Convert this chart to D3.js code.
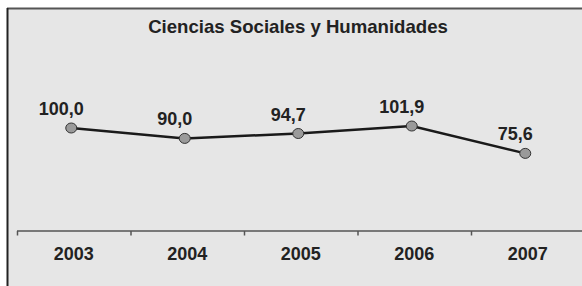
<!DOCTYPE html>
<html>
<head>
<meta charset="utf-8">
<script src="https://cdn.jsdelivr.net/npm/d3@7"></script>
<style>
  body { margin: 0; background: #fff; }
  svg { display: block; }
</style>
</head>
<body>
<svg id="chart" width="582" height="286"></svg>
<script>
// chart data
const years = ["2003", "2004", "2005", "2006", "2007"];
const values = [100.0, 90.0, 94.7, 101.9, 75.6];
const valueLabels = ["100,0", "90,0", "94,7", "101,9", "75,6"];
const title = "Ciencias Sociales y Humanidades";

const width = 582, height = 286;
const font = "'Liberation Sans', Arial, Helvetica, sans-serif";

const svg = d3.select("#chart");

// grey panel with the top/left frame
svg.append("rect")
    .attr("x", 7).attr("y", 8)
    .attr("width", width - 7).attr("height", height - 8)
    .attr("fill", "#e6e6e6");
svg.append("line")
    .attr("x1", 7).attr("x2", width).attr("y1", 8.5).attr("y2", 8.5)
    .attr("stroke", "#555").attr("stroke-width", 2);
svg.append("line")
    .attr("x1", 7.5).attr("x2", 7.5).attr("y1", 8).attr("y2", height)
    .attr("stroke", "#222").attr("stroke-width", 2);

// scales
const x = d3.scaleBand()
    .domain(years)
    .range([17, 584.5]);

const y = d3.scaleLinear()
    .domain([0, 200])
    .range([232, 24]);

const axisY = 231;

// x axis: line, ticks on band edges, labels centered
const axis = svg.append("g");
axis.append("line")
    .attr("x1", x.range()[0]).attr("x2", width)
    .attr("y1", axisY).attr("y2", axisY)
    .attr("stroke", "#555").attr("stroke-width", 1.5);

axis.selectAll(".tick")
    .data(years)
    .enter().append("line")
    .attr("class", "tick")
    .attr("x1", d => x(d) + 0.5).attr("x2", d => x(d) + 0.5)
    .attr("y1", axisY).attr("y2", axisY + 4.5)
    .attr("stroke", "#555").attr("stroke-width", 1.5);

axis.selectAll(".year")
    .data(years)
    .enter().append("text")
    .attr("class", "year")
    .attr("x", d => x(d) + x.bandwidth() / 2)
    .attr("y", 260)
    .attr("text-anchor", "middle")
    .attr("font-family", font)
    .attr("font-weight", "bold")
    .attr("font-size", "18px")
    .attr("fill", "#222")
    .text(d => d);

// title
svg.append("text")
    .attr("x", 298)
    .attr("y", 33)
    .attr("text-anchor", "middle")
    .attr("font-family", font)
    .attr("font-weight", "bold")
    .attr("font-size", "18.6px")
    .attr("fill", "#222")
    .text(title);

// line + markers
const px = (d, i) => x(years[i]) + x.bandwidth() / 2 - 2.5;
const py = d => y(d);

const line = d3.line()
    .x((d, i) => px(d, i))
    .y(d => py(d));

svg.append("path")
    .datum(values)
    .attr("d", line)
    .attr("fill", "none")
    .attr("stroke", "#1a1a1a")
    .attr("stroke-width", 2.5);

svg.selectAll(".dot")
    .data(values)
    .enter().append("ellipse")
    .attr("class", "dot")
    .attr("cx", (d, i) => px(d, i))
    .attr("cy", d => py(d))
    .attr("rx", 5.5)
    .attr("ry", 5)
    .attr("fill", "#9a9a9a")
    .attr("stroke", "#333")
    .attr("stroke-width", 1);

// value labels above points
svg.selectAll(".val")
    .data(values)
    .enter().append("text")
    .attr("class", "val")
    .attr("x", (d, i) => px(d, i) - 10)
    .attr("y", d => py(d) - 13)
    .attr("text-anchor", "middle")
    .attr("font-family", font)
    .attr("font-weight", "bold")
    .attr("font-size", "18px")
    .attr("fill", "#222")
    .text((d, i) => valueLabels[i]);
</script>
</body>
</html>
